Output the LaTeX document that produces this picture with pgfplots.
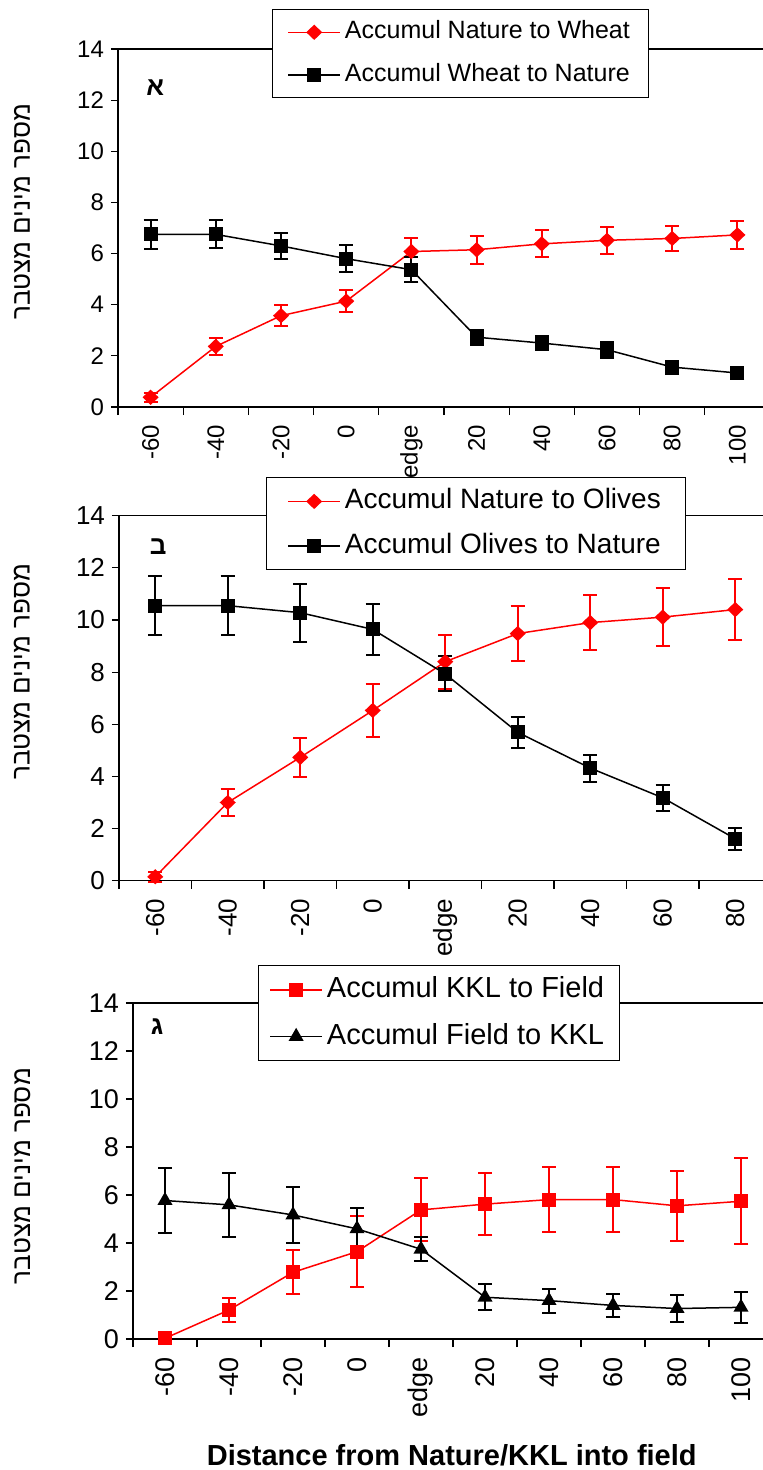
\documentclass[border=0pt]{standalone}
\usepackage{fontspec}
\setmainfont{Liberation Sans}
\newfontfamily\hebfont[Script=Hebrew]{Liberation Sans}
\TeXXeTstate=1
\usepackage{pgfplots}
\usepackage{pgfplotstable}
\pgfplotsset{compat=1.18}

\pgfplotstableread{
x y e
0 0.38 0.18
1 2.37 0.33
2 3.57 0.41
3 4.14 0.44
4 6.08 0.51
5 6.15 0.55
6 6.38 0.53
7 6.52 0.52
8 6.59 0.48
9 6.73 0.56
}\tAr
\pgfplotstableread{
x y e
0 6.75 0.56
1 6.75 0.55
2 6.30 0.52
3 5.80 0.52
4 5.37 0.49
5 2.73 0.29
6 2.50 0.29
7 2.24 0.32
8 1.56 0.25
9 1.33 0.22
}\tAb
\pgfplotstableread{
x y e
0 0.15 0.19
1 3.00 0.51
2 4.73 0.75
3 6.53 1.01
4 8.40 1.04
5 9.48 1.07
6 9.90 1.07
7 10.11 1.12
8 10.40 1.16
}\tBr
\pgfplotstableread{
x y e
0 10.55 1.14
1 10.55 1.14
2 10.28 1.11
3 9.64 0.97
4 7.93 0.67
5 5.69 0.59
6 4.32 0.52
7 3.18 0.50
8 1.61 0.43
}\tBb
\pgfplotstableread{
x y e
0 0.03 0
1 1.21 0.49
2 2.78 0.92
3 3.64 1.47
4 5.38 1.31
5 5.62 1.30
6 5.81 1.34
7 5.81 1.34
8 5.55 1.47
9 5.74 1.80
}\tCr
\pgfplotstableread{
x y e
0 5.77 1.34
1 5.59 1.34
2 5.17 1.17
3 4.59 0.88
4 3.74 0.51
5 1.74 0.54
6 1.60 0.50
7 1.40 0.47
8 1.27 0.58
9 1.32 0.66
}\tCb

\tikzset{letter/.style={font=\hebfont\bfseries\fontsize{13}{15}\selectfont}}
\pgfplotsset{
  panel/.style={
    scale only axis,
    anchor=south west,
    axis x line*=bottom, axis y line*=left,
    axis line style={line width=0.6pt, black},
    tick align=outside,
    ymin=0, ymax=14, ytick={0,2,...,14},
    major x tick style={draw=none},
    minor x tick style={draw=black, line width=0.6pt},
    major y tick style={draw=black, line width=0.6pt},
    major tick length=3.5pt, minor tick length=4pt,
    xticklabel style={rotate=90, anchor=east},
    xticklabel shift=2pt,
    /pgf/number format/assume math mode=true,
    ylabel style={anchor=center, font=\hebfont\fontsize{13}{15}\selectfont},
    legend cell align=left,
    legend style={draw=black, line width=0.6pt, fill=white, anchor=north west,
      inner ysep=3pt, nodes={inner sep=2pt}},
    legend image code/.code={\draw[mark repeat=2, mark phase=2, ##1] plot coordinates {(0pt,0pt) (13pt,0pt) (26pt,0pt)};},
    clip=false,
  },
  fs/.style n args={5}{% tick font, legend font, text height, row sep, inner xsep
    xticklabel style={font=\fontsize{#1}{#1}\selectfont},
    yticklabel style={font=\fontsize{#1}{#1}\selectfont},
    legend style={font=\fontsize{#2}{#2}\selectfont, row sep=#4, inner xsep=#5,
      nodes={text height=#3, text depth=3.3pt}},
  },
  errs/.style={error bars/.cd, y dir=both, y explicit,
      error bar style={line width=1pt},
      error mark options={rotate=90, mark size=3.5pt, line width=1pt}},
  redD/.style={red, line width=0.75pt, mark=diamond*, mark size=3.3pt, mark options={xscale=1.4, solid}, errs},
  blkS/.style={black, line width=0.75pt, mark=square*, mark size=3.1pt, mark options={solid}, errs},
  redS/.style={red, line width=0.75pt, mark=square*, mark size=3.1pt, mark options={solid}, errs},
  blkT/.style={black, line width=0.75pt, mark=triangle*, mark size=3.6pt, mark options={solid}, errs},
}

\begin{document}
\begin{tikzpicture}
\useasboundingbox (0,0) rectangle (381.5pt,-735pt);

% Panel 1
\begin{axis}[panel, fs={12}{12.5}{9.5pt}{4.5pt}{7.5pt},
  at={(59pt,-203.5pt)}, width=326pt, height=179pt,
  xmin=-0.5, xmax=9.5, xtick={0,...,9},
  minor xtick={-0.5,0.5,...,9.5},
  xticklabels={-60,-40,-20,0,edge,20,40,60,80,100},
  ylabel={\beginR מספר מינים מצטבר\endR},
  ylabel style={at={(axis description cs:-0.147,0.545)}},
  legend style={at={(0.236,1.112)}}]
\draw[line width=0.6pt] (rel axis cs:0,1) -- (rel axis cs:1,1);
\addplot[redD] table[x=x,y=y,y error=e]{\tAr};
\addplot[blkS] table[x=x,y=y,y error=e]{\tAb};
\node[letter] at (rel axis cs:0.057,0.891) {א};
\legend{Accumul Nature to Wheat, Accumul Wheat to Nature}
\end{axis}

% Panel 2
\begin{axis}[panel, fs={13}{14}{10.5pt}{4.5pt}{10.5pt},
  at={(59.5pt,-440.35pt)}, width=326.25pt, height=182.5pt,
  xmin=-0.5, xmax=8.5, xtick={0,...,8},
  minor xtick={-0.5,0.5,...,8.5},
  xticklabels={-60,-40,-20,0,edge,20,40,60,80},
  ylabel={\beginR מספר מינים מצטבר\endR},
  ylabel style={at={(axis description cs:-0.149,0.572)}},
  legend style={at={(0.225,1.106)}}]
\draw[line width=0.6pt] (rel axis cs:0,1) -- (rel axis cs:1,1);
\addplot[redD] table[x=x,y=y,y error=e]{\tBr};
\addplot[blkS] table[x=x,y=y,y error=e]{\tBb};
\node[letter] at (rel axis cs:0.06,0.914) {ב};
\legend{Accumul Nature to Olives, Accumul Olives to Nature}
\end{axis}

% Panel 3
\begin{axis}[panel, fs={13.5}{14.5}{11pt}{5pt}{5.5pt},
  at={(66.5pt,-669.5pt)}, width=320pt, height=168pt,
  xmin=-0.5, xmax=9.5, xtick={0,...,9},
  minor xtick={-0.5,0.5,...,9.5},
  xticklabels={-60,-40,-20,0,edge,20,40,60,80,100},
  ylabel={\beginR מספר מינים מצטבר\endR},
  ylabel style={at={(axis description cs:-0.173,0.485)}},
  xlabel={Distance from Nature/KKL into field},
  xlabel style={at={(axis description cs:0.498,-0.345)}, anchor=center, font=\bfseries\fontsize{14.5}{16}\selectfont},
  legend style={at={(0.195,1.113)}}]
\draw[line width=0.6pt] (rel axis cs:0,1) -- (rel axis cs:1,1);
\addplot[redS] table[x=x,y=y,y error=e]{\tCr};
\addplot[blkT] table[x=x,y=y,y error=e]{\tCb};
\node[letter] at (rel axis cs:0.0375,0.929) {ג};
\legend{Accumul KKL to Field, Accumul Field to KKL}
\end{axis}
\end{tikzpicture}
\end{document}
